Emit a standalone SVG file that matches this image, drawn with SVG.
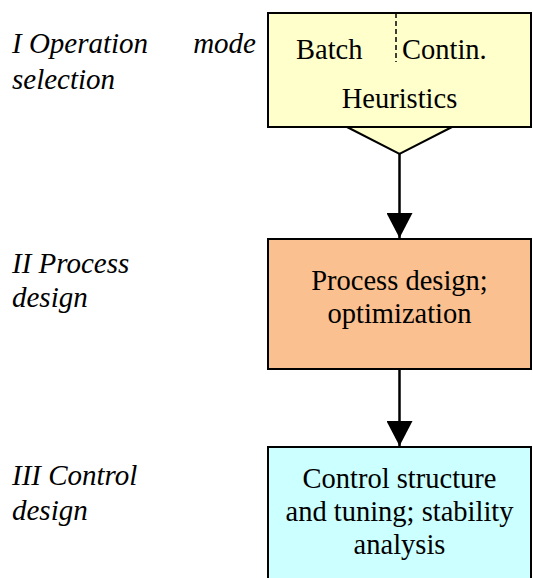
<svg xmlns="http://www.w3.org/2000/svg" width="533" height="578" viewBox="0 0 533 578">
<defs>
<marker id="ah" markerUnits="userSpaceOnUse" markerWidth="26" markerHeight="26" viewBox="0 0 26 26" refX="25" refY="13" orient="auto">
<path d="M0,0 L25,13 L0,26 Z" fill="#000"/>
</marker>
</defs>
<rect width="533" height="578" fill="#fff"/>
<g id="labels">
<text style="font-family:'Liberation Serif',serif;font-size:29px;font-style:italic" x="12" y="53">I Operation</text>
<text style="font-family:'Liberation Serif',serif;font-size:29px;font-style:italic" x="256" y="53" text-anchor="end">mode</text>
<text style="font-family:'Liberation Serif',serif;font-size:29px;font-style:italic" x="12" y="89">selection</text>
<text style="font-family:'Liberation Serif',serif;font-size:29px;font-style:italic" x="12" y="273">II Process</text>
<text style="font-family:'Liberation Serif',serif;font-size:29px;font-style:italic" x="12" y="307">design</text>
<text style="font-family:'Liberation Serif',serif;font-size:29px;font-style:italic" x="12" y="485">III Control</text>
<text style="font-family:'Liberation Serif',serif;font-size:29px;font-style:italic" x="12" y="520">design</text>
</g>
<g id="node1">
<rect x="268" y="13" width="263" height="114" fill="#FFFFCC" stroke="#000" stroke-width="2"/>
<line x1="396" y1="13" x2="396" y2="62" stroke="#000" stroke-width="1.5" stroke-dasharray="5,3"/>
<text style="font-family:'Liberation Serif',serif;font-size:28.5px" x="296" y="59">Batch</text>
<text style="font-family:'Liberation Serif',serif;font-size:28.5px" x="402" y="59">Contin.</text>
<text style="font-family:'Liberation Serif',serif;font-size:28.5px" text-anchor="middle" x="399.5" y="108">Heuristics</text>
<path d="M347,127 L452,127 L399.5,154 Z" fill="#FFFFCC" stroke="#000" stroke-width="2"/>
</g>
<g id="node2">
<rect x="268" y="239" width="263" height="130" fill="#FAC090" stroke="#000" stroke-width="2"/>
<text style="font-family:'Liberation Serif',serif;font-size:28.5px" text-anchor="middle" x="399.5" y="290">Process design;</text>
<text style="font-family:'Liberation Serif',serif;font-size:28.5px" text-anchor="middle" x="399.5" y="323">optimization</text>
</g>
<g id="node3">
<rect x="268" y="447" width="263" height="145" fill="#CCFFFF" stroke="#000" stroke-width="2"/>
<text style="font-family:'Liberation Serif',serif;font-size:28.5px" text-anchor="middle" x="399.5" y="488">Control structure</text>
<text style="font-family:'Liberation Serif',serif;font-size:28.5px" text-anchor="middle" x="399.5" y="521">and tuning; stability</text>
<text style="font-family:'Liberation Serif',serif;font-size:28.5px" text-anchor="middle" x="399.5" y="554">analysis</text>
</g>
<g id="connectors" stroke="#000" stroke-width="2.5" fill="none">
<line x1="399.5" y1="154" x2="399.5" y2="238" marker-end="url(#ah)"/>
<line x1="399.5" y1="369" x2="399.5" y2="446" marker-end="url(#ah)"/>
</g>
</svg>
